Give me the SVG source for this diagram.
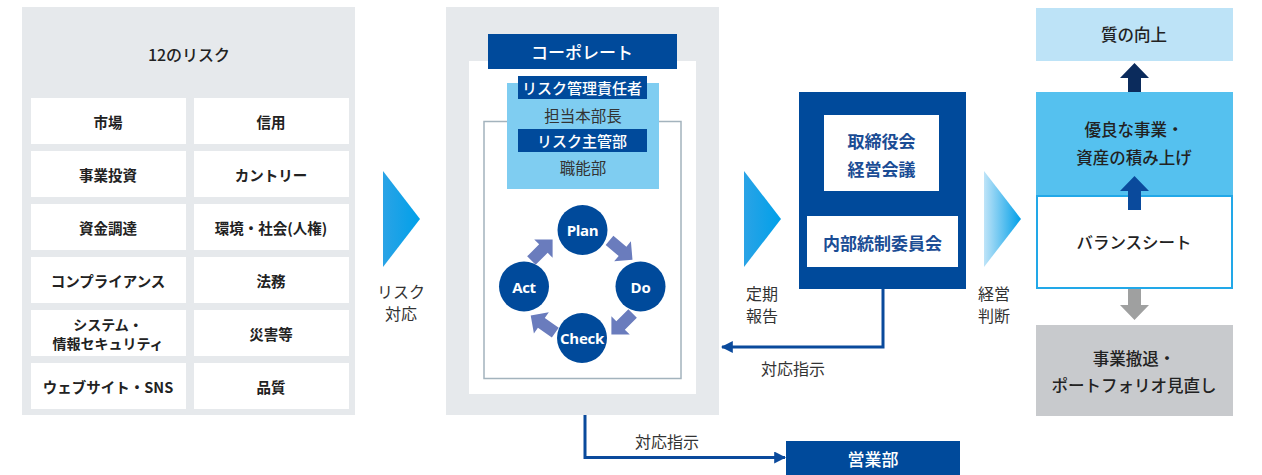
<svg xmlns="http://www.w3.org/2000/svg" width="1262" height="475" viewBox="0 0 1262 475">
<defs>
<style>
text{font-family:"Noto Sans CJK JP","Noto Sans",sans-serif;text-anchor:middle;dominant-baseline:central;fill:#222;}
.cell{fill:#fff;}
.cl{font-size:14.5px;font-weight:700;}
.cl2{font-size:14px;font-weight:700;}
.panel{fill:#e6e9ec;}
.blue{fill:#004a9b;}
.wt{fill:#fff;}
.lbl{font-size:16px;fill:#333;}
.pd{font-family:"Open Sans","Noto Sans",sans-serif;font-size:15px;font-weight:700;fill:#fff;letter-spacing:-0.3px;}
.pa{fill:#6a7cbd;}
.con{fill:none;stroke:#0a4a9c;stroke-width:3;}
.rt{font-size:16.5px;font-weight:500;}
</style>
<linearGradient id="g1" x1="0" y1="0" x2="1" y2="0">
<stop offset="0" stop-color="#2aa3e6"/><stop offset="1" stop-color="#00a0e9"/>
</linearGradient>
<linearGradient id="g3" x1="0" y1="0" x2="1" y2="0">
<stop offset="0" stop-color="#bfe4f8"/><stop offset="1" stop-color="#009fe8"/>
</linearGradient>
<marker id="ah" viewBox="0 0 10 10" refX="9" refY="5" markerWidth="4" markerHeight="4" orient="auto" markerUnits="strokeWidth">
<path d="M0,0 L10,5 L0,10 Z" fill="#0a4a9c"/>
</marker>
<path id="pda" d="M-15,-6 L2,-6 L2,-13 L15,0 L2,13 L2,6 L-15,6 Z"/>
</defs>

<g id="risks">
<rect class="panel" x="22" y="7" width="333" height="408"/>
<text x="189" y="54" style="font-size:16px;font-weight:500">12のリスク</text>
<g id="r1"><rect class="cell" x="31" y="98" width="155" height="46"/><text class="cl" x="108" y="121">市場</text></g>
<g id="r2"><rect class="cell" x="194" y="98" width="155" height="46"/><text class="cl" x="271" y="121">信用</text></g>
<g id="r3"><rect class="cell" x="31" y="151" width="155" height="46"/><text class="cl" x="108" y="174">事業投資</text></g>
<g id="r4"><rect class="cell" x="194" y="151" width="155" height="46"/><text class="cl" x="271" y="174">カントリー</text></g>
<g id="r5"><rect class="cell" x="31" y="204" width="155" height="46"/><text class="cl" x="108" y="227">資金調達</text></g>
<g id="r6"><rect class="cell" x="194" y="204" width="155" height="46"/><text class="cl" x="271" y="227">環境・社会(人権)</text></g>
<g id="r7"><rect class="cell" x="31" y="257" width="155" height="46"/><text class="cl" x="108" y="280">コンプライアンス</text></g>
<g id="r8"><rect class="cell" x="194" y="257" width="155" height="46"/><text class="cl" x="271" y="280">法務</text></g>
<g id="r9"><rect class="cell" x="31" y="310" width="155" height="46"/><text class="cl2" x="108" y="324">システム・</text><text class="cl2" x="108" y="343">情報セキュリティ</text></g>
<g id="r10"><rect class="cell" x="194" y="310" width="155" height="46"/><text class="cl" x="271" y="333">災害等</text></g>
<g id="r11"><rect class="cell" x="31" y="363" width="155" height="46"/><text class="cl" x="108" y="386">ウェブサイト・SNS</text></g>
<g id="r12"><rect class="cell" x="194" y="363" width="155" height="46"/><text class="cl" x="271" y="386">品質</text></g>
</g>

<g id="arrow1">
<polygon points="383,171 420,219 383,267" fill="url(#g1)"/>
<text class="lbl" x="401" y="291">リスク</text>
<text class="lbl" x="401" y="313">対応</text>
</g>

<g id="corporate">
<rect class="panel" x="446" y="7" width="273" height="408"/>
<rect fill="#fff" x="469" y="61" width="227" height="333"/>
<rect fill="none" stroke="#a3b3bd" stroke-width="1.5" x="484" y="121.5" width="197" height="257"/>
<rect fill="#7fcdf1" x="507" y="83" width="152" height="106"/>
<rect class="blue" x="488" y="34" width="189" height="35"/>
<text class="wt" x="582" y="51" style="font-size:17px;font-weight:500">コーポレート</text>
<rect class="blue" x="518" y="76" width="129" height="23"/>
<text class="wt" x="582" y="87.5" style="font-size:15px;font-weight:500">リスク管理責任者</text>
<text x="583" y="115" style="font-size:15.5px;fill:#333">担当本部長</text>
<rect class="blue" x="518" y="129" width="129" height="23"/>
<text class="wt" x="582" y="140.5" style="font-size:15px;font-weight:500">リスク主管部</text>
<text x="583" y="167" style="font-size:15.5px;fill:#333">職能部</text>
</g>

<g id="pdca">
<g id="plan"><circle class="blue" cx="582.5" cy="230" r="25"/><text class="pd" x="582.5" y="230">Plan</text></g>
<g id="do"><circle class="blue" cx="640.5" cy="286.5" r="25"/><text class="pd" x="640.5" y="286.5">Do</text></g>
<g id="check"><circle class="blue" cx="582" cy="338" r="25"/><text class="pd" x="582" y="338">Check</text></g>
<g id="act"><circle class="blue" cx="524" cy="286.5" r="25"/><text class="pd" x="524" y="286.5">Act</text></g>
<use href="#pda" class="pa" transform="translate(621,250) rotate(40)"/>
<use href="#pda" class="pa" transform="translate(622,324) rotate(135)"/>
<use href="#pda" class="pa" transform="translate(543,324) rotate(215)"/>
<use href="#pda" class="pa" transform="translate(542,250) rotate(-45)"/>
</g>

<g id="arrow2">
<polygon points="744,171 781,219 744,267" fill="url(#g1)"/>
<text class="lbl" x="762" y="293">定期</text>
<text class="lbl" x="762" y="315">報告</text>
</g>

<g id="board">
<rect class="blue" x="799" y="92" width="167" height="197"/>
<rect fill="#fff" x="824" y="115" width="115" height="76"/>
<text x="881.5" y="140" style="font-size:17px;font-weight:700;fill:#1a4c94">取締役会</text>
<text x="881.5" y="168" style="font-size:17px;font-weight:700;fill:#1a4c94">経営会議</text>
<rect fill="#fff" x="807" y="216" width="151" height="51"/>
<text x="882.5" y="242" style="font-size:17px;font-weight:700;fill:#1a4c94">内部統制委員会</text>
</g>

<g id="arrow3">
<polygon points="984,171 1021,219 984,267" fill="url(#g3)"/>
<text class="lbl" x="994" y="293">経営</text>
<text class="lbl" x="994" y="315">判断</text>
</g>

<g id="quality"><rect fill="#bde3f7" x="1036" y="8" width="197" height="53"/><text class="rt" x="1134" y="34">質の向上</text></g>
<g id="assets"><rect fill="#55c1ef" x="1036" y="92" width="197" height="103"/><text class="rt" x="1134" y="129">優良な事業・</text><text class="rt" x="1134" y="157">資産の積み上げ</text></g>
<g id="balance"><rect fill="#fff" stroke="#22a8e8" stroke-width="2" x="1037" y="196" width="195" height="92"/><text class="rt" x="1134" y="242">バランスシート</text></g>
<g id="withdraw"><rect fill="#c8cacd" x="1036" y="325" width="197" height="91"/><text class="rt" x="1134" y="358">事業撤退・</text><text class="rt" x="1134" y="385">ポートフォリオ見直し</text></g>
<g id="sales"><rect class="blue" x="786" y="441" width="174" height="34"/><text class="wt" x="873" y="458" style="font-size:17px;font-weight:500">営業部</text></g>

<g id="connectors">
<path d="M1134.5,63 L1149,78 L1141,78 L1141,92 L1128,92 L1128,78 L1120,78 Z" fill="#0b2b5c"/>
<path d="M1134.5,176 L1149,191 L1141,191 L1141,210 L1128,210 L1128,191 L1120,191 Z" fill="#0a4a9c"/>
<path d="M1128,289 L1141,289 L1141,305 L1149,305 L1134.5,320 L1120,305 L1128,305 Z" fill="#9fa0a0"/>
<path class="con" d="M883,289 L883,347 L722,347" marker-end="url(#ah)"/>
<text class="lbl" x="793" y="368">対応指示</text>
<path class="con" d="M585,415 L585,457.5 L785,457.5" marker-end="url(#ah)"/>
<text class="lbl" x="667" y="441">対応指示</text>
</g>
</svg>
